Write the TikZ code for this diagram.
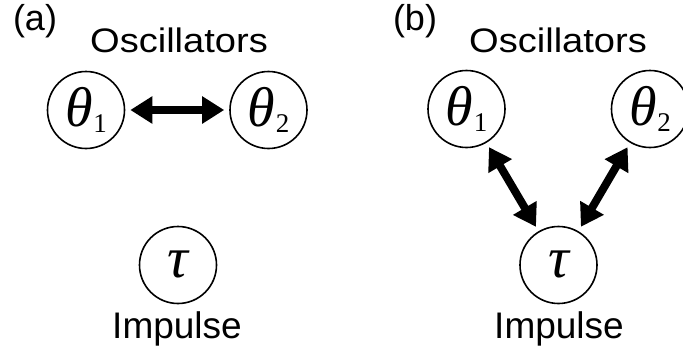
\documentclass[tikz,border=0pt]{standalone}
\usepackage{fontspec}
\setmainfont{Liberation Sans}
\newfontfamily\tnr{Liberation Serif}
\usetikzlibrary{arrows.meta}
\tikzset{
  var/.style={draw, line width=1.6pt, circle, minimum size=77pt, inner sep=0pt, font=\tnr},
  lbl/.style={anchor=base, inner sep=0pt, font=\fontsize{34}{34}\selectfont},
  imp/.style={anchor=base, inner sep=0pt, font=\fontsize{37}{37}\selectfont},
  panel/.style={anchor=base, inner sep=0pt, font=\fontsize{36}{36}\selectfont},
  link/.style={line width=8pt, {Triangle[length=22pt,width=26pt]}-{Triangle[length=22pt,width=26pt]}, shorten <=5pt, shorten >=5pt}
}
\newcommand{\thvar}[1]{\raisebox{0.1em}{\fontsize{56}{56}\selectfont\itshape θ}\kern0.5pt\raisebox{-0.5em}{\fontsize{27}{27}\selectfont #1}}
\newcommand{\tauvar}{\raisebox{0.15em}{\fontsize{58}{58}\selectfont\itshape τ}}
\begin{document}
\begin{tikzpicture}[x=1pt,y=-1pt]
\useasboundingbox (0,0) rectangle (683,349);
% panel (a)
\node[panel] (pa) at (35,30) {(a)};
\node[lbl] (osca) at (179,52) {\scalebox{1.12}[1]{Oscillators}};
\node[var] (t1a) at (86,110) {\thvar{1}};
\node[var] (t2a) at (268.5,110) {\thvar{2}};
\node[var] (taua) at (178,265) {\tauvar};
\node[imp] (impa) at (177,338) {Impulse};
\draw[link] (t1a) -- (t2a);
% panel (b)
\node[panel] (pb) at (415,30) {(b)};
\node[lbl] (oscb) at (558,52) {\scalebox{1.12}[1]{Oscillators}};
\node[var] (t1b) at (466.5,109) {\thvar{1}};
\node[var] (t2b) at (650,109) {\thvar{2}};
\node[var] (taub) at (558.5,265) {\tauvar};
\node[imp] (impb) at (559,338) {Impulse};
\draw[link] (t1b) -- (taub);
\draw[link] (t2b) -- (taub);
\end{tikzpicture}
\end{document}
